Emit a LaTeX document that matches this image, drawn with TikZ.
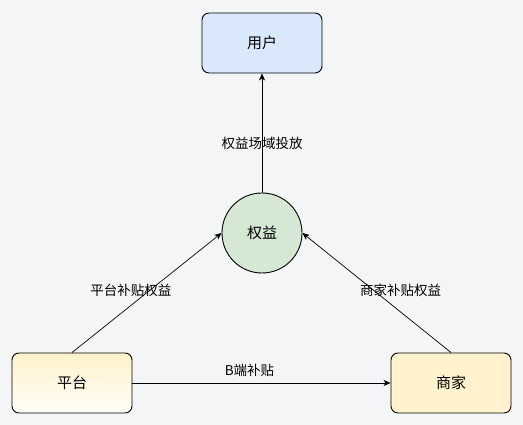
\documentclass[tikz,border=0pt]{standalone}
\usepackage{fontspec}
\setmainfont{Noto Sans CJK SC}
\usetikzlibrary{shapes.geometric,arrows.meta,calc}

\definecolor{bgcol}{HTML}{F4F5F7}
\definecolor{usercol}{HTML}{DAE8FC}
\definecolor{rightcol}{HTML}{D5E8D4}
\definecolor{bizcol}{HTML}{FFF2CC}
\definecolor{bizlight}{HTML}{FFFDF6}

\begin{document}
\begin{tikzpicture}[x=1pt,y=1pt]
	\tikzset{box/.style={draw, rounded corners=7pt, minimum width=120pt, minimum height=60pt, line width=0.9pt, font=\fontsize{15}{18}\selectfont},
		edgelabel/.style={font=\fontsize{13.5}{16}\selectfont, inner sep=0pt},
		link/.style={-{Stealth[length=7pt,width=6pt,inset=2pt]}, line width=0.7pt}}

	\fill [bgcol] (0,0) rectangle (523,425);

	\node [box, fill=usercol] (user) at (262,382) {用户};
	\node [circle, draw, fill=rightcol, minimum size=80pt, line width=0.9pt, font=\fontsize{15}{18}\selectfont] (rights) at (262,192) {权益};
	\node [box, top color=bizcol, bottom color=bizlight] (platform) at (72,42) {平台};
	\node [box, fill=bizcol] (merchant) at (451,42) {商家};

	\draw [link] (rights) -- (user) node [edgelabel, midway, yshift=-10pt] {权益场域投放};
	\draw [link] (platform.north) -- (rights.west) node [edgelabel, midway, xshift=-16pt, yshift=2pt] {平台补贴权益};
	\draw [link] (merchant.north) -- (rights.east) node [edgelabel, midway, xshift=24pt, yshift=2pt] {商家补贴权益};
	\draw [link] (platform) -- (merchant) node [edgelabel, midway, xshift=-12pt, yshift=13pt] {B端补贴};
\end{tikzpicture}
\end{document}
